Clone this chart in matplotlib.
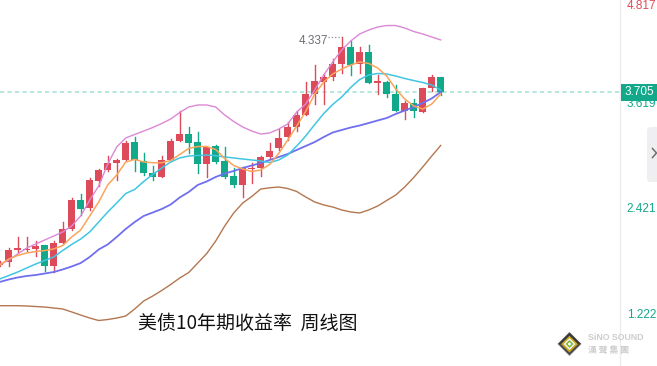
import numpy as np
import matplotlib
matplotlib.use('Agg')
from matplotlib import pyplot as plt
from matplotlib import patches
from matplotlib import lines

# weekly candles of the US 10y yield
opens = [1.741, 1.775, 1.915, 1.912, 1.930, 1.972, 1.737, 1.998, 2.154, 2.483,
         2.393, 2.703, 2.824, 2.907, 2.938, 3.143, 2.923, 2.790, 2.748, 2.938,
         3.157, 3.233, 3.143, 2.896, 3.097, 2.927, 2.756, 2.654, 2.832, 2.850,
         2.972, 3.078, 3.199, 3.316, 3.449, 3.688, 3.828, 3.884, 4.029, 4.225,
         4.025, 4.165, 3.816, 3.828, 3.688, 3.495, 3.586, 3.487, 3.760, 3.881]
highs = [1.785, 1.938, 2.066, 2.066, 2.014, 1.975, 2.017, 2.237, 2.506, 2.552,
         2.733, 2.836, 2.983, 2.944, 3.154, 3.199, 3.021, 2.870, 2.983, 3.176,
         3.495, 3.310, 3.256, 3.091, 3.105, 3.082, 2.850, 2.862, 2.900, 2.987,
         3.135, 3.287, 3.373, 3.498, 3.821, 4.021, 3.915, 4.089, 4.337, 4.290,
         4.225, 4.245, 3.904, 3.836, 3.790, 3.608, 3.628, 3.758, 3.904, 3.885]
lows = [1.728, 1.737, 1.896, 1.907, 1.850, 1.677, 1.669, 1.995, 2.142, 2.313,
        2.370, 2.646, 2.813, 2.711, 2.926, 2.813, 2.771, 2.711, 2.745, 2.932,
        3.150, 3.014, 2.794, 2.748, 2.909, 2.730, 2.628, 2.521, 2.680, 2.759,
        2.966, 3.052, 3.165, 3.271, 3.444, 3.574, 3.574, 3.847, 3.923, 3.904,
        3.930, 3.813, 3.684, 3.657, 3.489, 3.404, 3.430, 3.482, 3.725, 3.677]
closes = [1.771, 1.915, 1.938, 1.923, 1.964, 1.737, 1.995, 2.154, 2.483, 2.384,
          2.711, 2.824, 2.904, 2.938, 3.131, 2.938, 2.794, 2.748, 2.938, 3.154,
          3.233, 3.135, 2.896, 3.086, 2.915, 2.748, 2.654, 2.844, 2.844, 2.972,
          3.040, 3.191, 3.316, 3.449, 3.688, 3.836, 3.881, 4.029, 4.225, 4.017,
          4.165, 3.816, 3.836, 3.688, 3.495, 3.582, 3.495, 3.753, 3.881, 3.705]

# indicator lines
ma5 = [1.745, 1.813, 1.853, 1.881, 1.898, 1.909, 1.927, 1.966, 2.063, 2.142,
       2.302, 2.461, 2.654, 2.767, 2.915, 2.944, 2.915, 2.907, 2.907, 2.932,
       3.000, 3.069, 3.091, 3.091, 3.057, 2.955, 2.875, 2.836, 2.807, 2.824,
       2.887, 3.012, 3.165, 3.324, 3.489, 3.688, 3.824, 3.915, 3.972, 4.017,
       4.052, 4.035, 3.983, 3.892, 3.745, 3.631, 3.552, 3.517, 3.574, 3.688]
ma10 = [1.586, 1.625, 1.665, 1.711, 1.756, 1.796, 1.836, 1.909, 1.978, 2.040,
        2.120, 2.233, 2.347, 2.449, 2.557, 2.603, 2.694, 2.773, 2.847, 2.915,
        2.961, 2.983, 2.989, 2.995, 2.987, 2.972, 2.961, 2.949, 2.938, 2.927,
        2.909, 2.938, 2.995, 3.097, 3.211, 3.341, 3.466, 3.569, 3.654, 3.762,
        3.853, 3.904, 3.921, 3.915, 3.892, 3.864, 3.841, 3.819, 3.790, 3.733]
boll_mid = [1.552, 1.580, 1.603, 1.620, 1.631, 1.648, 1.665, 1.694, 1.728, 1.767,
            1.836, 1.921, 1.978, 2.063, 2.154, 2.233, 2.302, 2.341, 2.381, 2.432,
            2.512, 2.574, 2.654, 2.694, 2.745, 2.784, 2.813, 2.847, 2.875, 2.904,
            2.938, 2.972, 3.006, 3.052, 3.097, 3.142, 3.199, 3.250, 3.279, 3.307,
            3.330, 3.358, 3.387, 3.415, 3.461, 3.500, 3.540, 3.586, 3.637, 3.711]
boll_up = [1.745, 1.802, 1.870, 1.938, 1.983, 2.029, 2.074, 2.120, 2.188, 2.302,
           2.483, 2.642, 2.892, 3.086, 3.188, 3.228, 3.267, 3.307, 3.353, 3.404,
           3.478, 3.540, 3.563, 3.563, 3.540, 3.449, 3.375, 3.313, 3.267, 3.233,
           3.245, 3.290, 3.347, 3.483, 3.574, 3.733, 3.904, 4.052, 4.188, 4.290,
           4.370, 4.415, 4.449, 4.466, 4.466, 4.438, 4.398, 4.370, 4.336, 4.302]
boll_dn = [1.282, 1.282, 1.282, 1.279, 1.273, 1.267, 1.256, 1.245, 1.211, 1.176,
           1.142, 1.114, 1.125, 1.142, 1.165, 1.245, 1.336, 1.392, 1.455, 1.523,
           1.597, 1.659, 1.767, 1.875, 2.017, 2.188, 2.336, 2.449, 2.523, 2.608,
           2.622, 2.631, 2.614, 2.580, 2.517, 2.461, 2.427, 2.404, 2.370, 2.347,
           2.336, 2.370, 2.415, 2.478, 2.540, 2.631, 2.739, 2.858, 2.983, 3.103]

axis_labels = [4.817, 3.619, 2.421, 1.222]
last_close = 3.705
period_high = 4.337
title = '美债10年期收益率  周线图'

UP = '#dd4b5a'
DOWN = '#12a88a'
num_font = 'Liberation Sans'

W, H = 657, 366
fig = plt.figure(figsize=(W / 100, H / 100), dpi=100)
ax = fig.add_axes([0, 0, 620 / W, 1])
ax.set_xlim(0.033, 68.92)
ax.set_ylim(0.597, 4.756)
ax.axis('off')

# candles
x = np.arange(len(opens))
for i in x:
    o, h, l, c = opens[i], highs[i], lows[i], closes[i]
    col = UP if c >= o else DOWN
    ax.add_artist(lines.Line2D([i, i], [l, h], color=col, lw=1.0, zorder=2))
    bot = min(o, c)
    hgt = max(abs(c - o), 0.012)
    ax.add_patch(patches.Rectangle((i - 0.4, bot), 0.8, hgt, facecolor=col,
                                   edgecolor='none', zorder=3))

# indicator lines
ax.plot(x, boll_up, color='#dd88d6', lw=1.0, zorder=4)
ax.plot(x, boll_dn, color='#b47650', lw=1.0, zorder=4)
ax.plot(x, boll_mid, color='#6f6ff0', lw=1.3, zorder=4)
ax.plot(x, ma10, color='#40c6e2', lw=1.1, zorder=5)
ax.plot(x, ma5, color='#fba55a', lw=1.1, zorder=6)

# last price dashed line
ax.axhline(last_close, color='#a9e2d6', lw=1.2, ls=(0, (2.5, 2)), zorder=1)

# period high marker
hi_idx = int(np.argmax(highs))
ax.plot([hi_idx - 1.5, hi_idx], [period_high, period_high], color='#8a8f99',
        lw=0.9, ls=':', zorder=6)
ax.annotate(f'{period_high:.3f}', (hi_idx - 1.55, period_high), xytext=(0, -3),
            textcoords='offset points', ha='right', va='center', fontsize=8.5,
            color='#6e7079', family=num_font)

# right price axis
yt = ax.get_yaxis_transform()
ax.add_artist(lines.Line2D([1.0008, 1.0008], [0, 1], transform=ax.transAxes,
                           color='#ececec', lw=1, clip_on=False))
for v in axis_labels:
    col = UP if v > last_close else DOWN
    if v == max(axis_labels):
        ax.text(656 / 620, 1.0, f'{v:.3f}', transform=ax.transAxes, ha='right',
                va='top', fontsize=8.5, color=col, family=num_font)
    else:
        ax.annotate(f'{v:.3f}', (656 / 620, v), xycoords=yt, xytext=(0, -2.8),
                    textcoords='offset points', ha='right', va='center',
                    fontsize=8.5, color=col, family=num_font, annotation_clip=False)
box_h = 17.5 / 88
ax.add_patch(patches.Rectangle((621 / 620, last_close - box_h / 2), 37 / 620, box_h,
                               transform=yt, facecolor=DOWN, edgecolor='none',
                               clip_on=False, zorder=8))
ax.text(639.5 / 620, last_close, f'{last_close:.3f}', transform=yt, ha='center',
        va='center', fontsize=8.5, color='white', family=num_font, zorder=9)

# overlay in pixel coordinates for decorations
ov = fig.add_axes([0, 0, 1, 1], facecolor='none')
ov.set_xlim(0, W)
ov.set_ylim(H, 0)
ov.axis('off')

ov.add_patch(patches.FancyBboxPatch((647, 127), 14, 55, boxstyle='round,pad=0,rounding_size=4',
                                    facecolor='#efeff1', edgecolor='none'))
ov.plot([652.5, 656.5, 652.5], [148.5, 153, 157.5], color='#707070', lw=1.1)

ov.text(138, 323, title, ha='left', va='center', fontsize=13.7, color='#111111',
        family=['Noto Sans CJK SC', 'DejaVu Sans'])

# logo
cx, cy = 569.5, 344
for r, col in [(12.5, '#d8d8d8'), (11.5, '#4b4b4b'), (8.5, '#c9a81c'), (6, '#f4f4f4'),
               (4, '#86b53c'), (1.8, '#ffffff')]:
    ov.add_patch(patches.Polygon([(cx - r, cy), (cx, cy - r), (cx + r, cy), (cx, cy + r)],
                                 closed=True, facecolor=col, edgecolor='none'))
ov.add_patch(patches.Polygon([(cx - 11.5, cy), (cx, cy - 11.5), (cx + 11.5, cy), (cx + 8.5, cy),
                              (cx, cy - 8.5), (cx - 8.5, cy)], closed=True,
                             facecolor='#3a3a3a', edgecolor='none'))
ov.text(588, 337, 'SiNO SOUND', ha='left', va='center', fontsize=6.3, weight='bold',
        color='#cdcdcd', family=num_font)
ov.text(588, 350, '漢 聲 集 團', ha='left', va='center', fontsize=6.3, weight='bold',
        color='#cdcdcd', family=['Noto Sans CJK TC', 'DejaVu Sans'])

fig.savefig('out.png', dpi=100)
